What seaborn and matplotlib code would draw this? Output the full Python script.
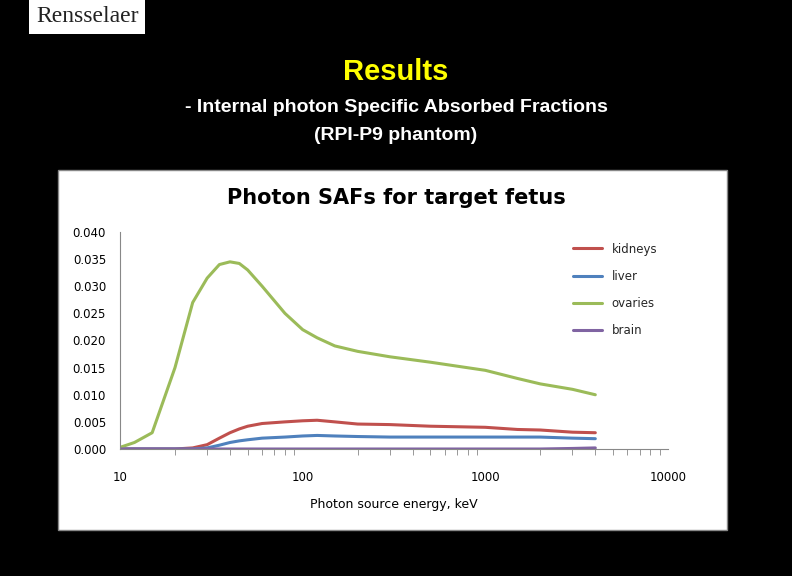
import matplotlib
matplotlib.use("Agg")
import matplotlib.pyplot as plt
from matplotlib.patches import Rectangle
import seaborn as sns
import pandas as pd

energy = [10, 12, 15, 20, 25, 30, 35, 40, 45, 50, 60, 80, 100, 120, 150, 200, 300, 500, 1000, 1500, 2000, 3000, 4000]
kidneys = [0, 0, 0, 0, 0.0002, 0.0008, 0.002, 0.003, 0.0037, 0.0042, 0.0047, 0.005, 0.0052, 0.0053, 0.0050, 0.0046, 0.0045, 0.0042, 0.0040, 0.0036, 0.0035, 0.0031, 0.0030]
liver = [0, 0, 0, 0, 0, 0.0002, 0.0007, 0.0012, 0.0015, 0.0017, 0.0020, 0.0022, 0.0024, 0.0025, 0.0024, 0.0023, 0.0022, 0.0022, 0.0022, 0.0022, 0.0022, 0.0020, 0.0019]
ovaries = [0.0003, 0.0012, 0.003, 0.015, 0.027, 0.0315, 0.034, 0.0345, 0.0342, 0.033, 0.030, 0.025, 0.022, 0.0205, 0.019, 0.018, 0.017, 0.016, 0.0145, 0.013, 0.012, 0.011, 0.010]
brain = [0]*21 + [0.0001, 0.0002]

names = ["kidneys", "liver", "ovaries", "brain"]
series = [kidneys, liver, ovaries, brain]
colors = ["#c0504d", "#4f81bd", "#9bbb59", "#8064a2"]
df = pd.concat([pd.DataFrame({"energy": energy, "SAF": s, "organ": n}) for n, s in zip(names, series)])

sns.set_style("white")
fig = plt.figure(figsize=(7.92, 5.76), dpi=100, facecolor="black")
fig.patches.append(Rectangle((58/792, 1-530/576), 669/792, 360/576, transform=fig.transFigure,
                             facecolor="white", edgecolor="#888888", lw=1, zorder=-5))
fig.text(0.5, 1-72/576, "Results", color="#ffff00", fontsize=21, fontweight="bold", ha="center", va="center", family="Liberation Sans")
fig.text(0.5, 1-107/576, "- Internal photon Specific Absorbed Fractions", color="white", fontsize=14, fontweight="bold", ha="center", va="center", family="Liberation Sans")
fig.text(0.5, 1-136/576, "(RPI-P9 phantom)", color="white", fontsize=14, fontweight="bold", ha="center", va="center", family="Liberation Sans")
fig.text(36/792, 1-17/576, "Rensselaer", color="#222222", fontsize=17, family="Liberation Serif", va="center",
         bbox=dict(facecolor="white", edgecolor="none", pad=5))
fig.text(0.5, 1-198/576, "Photon SAFs for target fetus", color="black", fontsize=15, fontweight="bold", ha="center", va="center")

ax = fig.add_axes([120/792, 1-449/576, 548/792, 217/576], zorder=2)
ax.set_facecolor("none")
sns.lineplot(data=df, x="energy", y="SAF", hue="organ", palette=colors, lw=2.2, ax=ax)
ax.set_xscale("log")
ax.set_xlim(10, 10000)
ax.set_ylim(0, 0.040)
ax.set_yticks([i*0.005 for i in range(9)])
ax.set_yticklabels([f"{i*0.005:.3f}" for i in range(9)], fontsize=8.5, color="black")
ax.set_xticks([10, 100, 1000, 10000])
ax.set_xticklabels(["10", "100", "1000", "10000"], fontsize=8.5, color="black")
ax.tick_params(axis="x", which="both", bottom=True, direction="out", length=4, pad=16, color="#888888")
ax.tick_params(axis="x", which="major", length=0)
ax.tick_params(axis="y", length=0, pad=10)
for s in ["top", "right"]:
    ax.spines[s].set_visible(False)
ax.spines["left"].set_color("#888888")
ax.spines["bottom"].set_color("#888888")
ax.set_xlabel("Photon source energy, keV", fontsize=9, labelpad=10, color="black")
ax.set_ylabel("")
leg = ax.legend(loc="upper right", frameon=False, fontsize=8.5, handlelength=2.5, labelspacing=1.2,
                bbox_to_anchor=(1.0, 1.0))
fig.savefig("out.png", dpi=100, facecolor="black")
